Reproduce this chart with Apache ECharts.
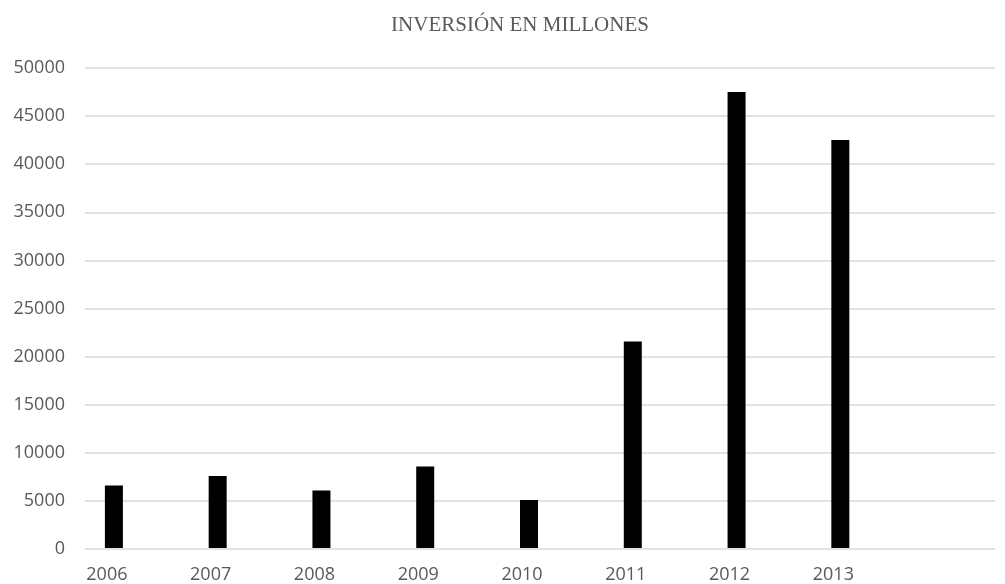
<!DOCTYPE html>
<html>
<head>
<meta charset="utf-8">
<script src="https://cdn.jsdelivr.net/npm/echarts@6/dist/echarts.min.js"></script>
<style>
  html, body { margin: 0; padding: 0; background: #fff; }
  #chart { width: 1005px; height: 584px; }
</style>
</head>
<body>
<div id="chart"></div>
<script>
// data
const years = ['2006', '2007', '2008', '2009', '2010', '2011', '2012', '2013', '']
const inversion = [6500, 7500, 6000, 8500, 5000, 21500, 47500, 42500]
const yTicks = [0, 50000, 5000] // min, max, step

const chart = echarts.init(document.getElementById('chart'))

const labelColor = '#595959'
const gridColor = '#d9d9d9'

chart.setOption({
  animation: false,
  title: {
    text: 'INVERSIÓN EN MILLONES',
    left: 515,
    top: 10,
    textAlign: 'center',
    textStyle: {
      fontFamily: 'Liberation Serif',
      fontWeight: 'normal',
      fontSize: 21,
      color: labelColor
    }
  },
  grid: [
    // bars
    { left: 62, right: 9, top: 68, bottom: 35 },
    // value axis + gridlines
    { left: 85, right: 10, top: 68, bottom: 35 }
  ],
  xAxis: [
    {
      type: 'category',
      gridIndex: 0,
      data: years,
      axisLine: { show: false },
      axisTick: { show: false },
      axisLabel: {
        fontFamily: 'Open Sans',
        fontSize: 18,
        color: labelColor,
        margin: 18,
        padding: [0, 14, 0, 0]
      }
    },
    {
      type: 'category',
      gridIndex: 1,
      data: years,
      show: false
    }
  ],
  yAxis: [
    {
      type: 'value',
      gridIndex: 0,
      min: yTicks[0],
      max: yTicks[1],
      interval: yTicks[2],
      show: false
    },
    {
      type: 'value',
      gridIndex: 1,
      min: yTicks[0],
      max: yTicks[1],
      interval: yTicks[2],
      axisLine: { show: false },
      axisTick: { show: false },
      axisLabel: {
        fontFamily: 'Open Sans',
        fontSize: 18,
        color: labelColor,
        margin: 20,
        formatter: v => String(v)
      },
      splitLine: {
        lineStyle: { color: gridColor, width: 1.5 }
      }
    }
  ],
  series: [
    {
      type: 'bar',
      xAxisIndex: 0,
      yAxisIndex: 0,
      data: inversion,
      barWidth: 18,
      itemStyle: { color: '#000' }
    }
  ]
})
</script>
</body>
</html>
